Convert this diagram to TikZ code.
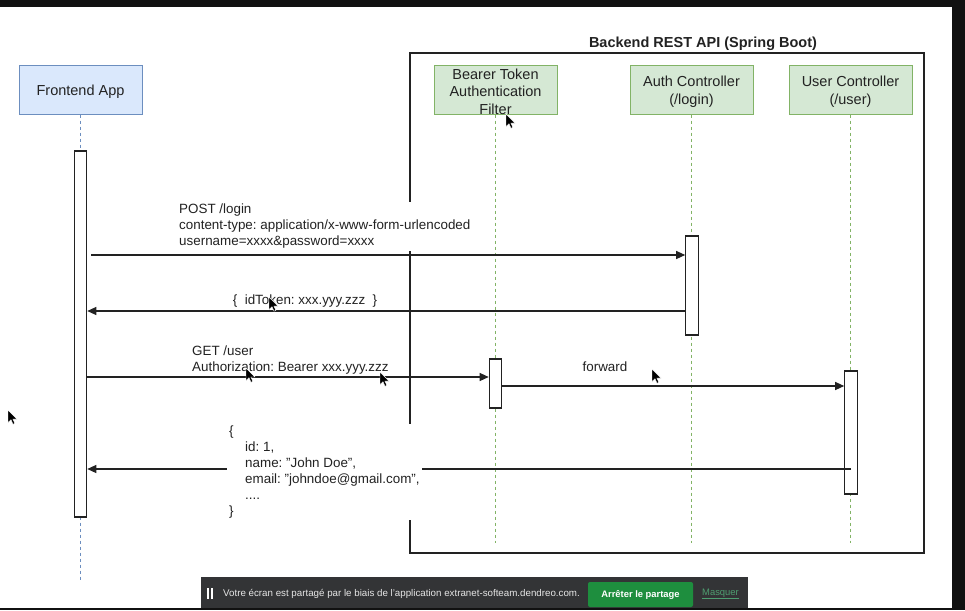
\documentclass[tikz,border=0pt]{standalone}
\usepackage{fontspec}
\setmainfont{Liberation Sans}
\usetikzlibrary{arrows.meta}
\frenchspacing
\definecolor{bluefill}{HTML}{DAE8FC}
\definecolor{bluestroke}{HTML}{6C8EBF}
\definecolor{greenfill}{HTML}{D5E8D4}
\definecolor{greenstroke}{HTML}{82B366}
\definecolor{ink}{HTML}{222222}
\definecolor{screenblack}{HTML}{111111}
\definecolor{sharebar}{HTML}{333436}
\definecolor{btngreen}{HTML}{1E8E3E}
\definecolor{masq}{HTML}{4E9E70}
\definecolor{bartext}{HTML}{E6E6E6}
\newcommand{\dq}{\symbol{"22}}
\tikzset{
  boxtext/.style={font=\fontsize{14.5}{17.5}\selectfont, text=ink},
  lbltext/.style={font=\fontsize{13.4}{16}\selectfont, text=ink},
  fbox/.style={draw=bluestroke, fill=bluefill, line width=1pt, minimum width=123pt, minimum height=49pt, inner sep=0pt},
  gbox/.style={draw=greenstroke, fill=greenfill, line width=1pt, minimum width=123pt, minimum height=49pt, inner sep=0pt},
  boxlabel/.style={label={[boxtext, align=center, yshift=-2.3pt]center:{#1}}},
  lifeblue/.style={draw=bluestroke, line width=0.9pt, dash pattern=on 3pt off 3pt},
  lifegreen/.style={draw=greenstroke, line width=0.9pt, dash pattern=on 3pt off 3pt},
  actbar/.style={draw=ink, fill=white, line width=1.1pt, minimum width=12.5pt, inner sep=0pt},
  msg/.style={draw=ink, line width=1.2pt, -{Triangle[length=9pt,width=8pt]}},
  msglabel/.style={lbltext, fill=white, inner sep=2pt, align=left},
  mouseptr/.pic={\filldraw[black, draw=white, line width=0.4pt, scale=0.9] (0,0) -- (0,14) -- (3.3,10.8) -- (5.6,15.8) -- (7.6,14.9) -- (5.4,10) -- (10,10) -- cycle;}
}
\begin{document}
\begin{tikzpicture}[x=1pt,y=-1pt]
\useasboundingbox (0,0) rectangle (965,610);
\fill[white] (0,0) rectangle (965,610);
% screen edges
\fill[screenblack] (0,0) rectangle (965,7);
\fill[screenblack] (952,0) rectangle (965,610);
\fill[screenblack] (0,608) rectangle (965,610);

% backend frame
\node[draw=ink, line width=1.2pt, minimum width=514pt, minimum height=500pt, inner sep=0pt] (frame) at (667,303) {};
\node[font=\bfseries\fontsize{14.5}{17}\selectfont, text=ink] (title) at (703,44) {Backend REST API (Spring Boot)};

% participants
\node[fbox, boxlabel={Frontend App}] (fe) at (80.5,89.5) {};
\node[gbox, boxlabel={Bearer Token\\Authentication\\Filter}] (bf) at (495.5,89.5) {};
\node[gbox, boxlabel={Auth Controller\\(/login)}] (ac) at (691.5,89.5) {};
\node[gbox, boxlabel={User Controller\\(/user)}] (uc) at (850.5,89.5) {};

% lifelines
\coordinate (feEnd) at (80.5,580);
\coordinate (bfEnd) at (495.5,543);
\coordinate (acEnd) at (691.5,543);
\coordinate (ucEnd) at (850.5,543);
\draw[lifeblue] (fe.south) -- (feEnd);
\draw[lifegreen] (bf.south) -- (bfEnd);
\draw[lifegreen] (ac.south) -- (acEnd);
\draw[lifegreen] (uc.south) -- (ucEnd);

% activations
\node[actbar, minimum height=366pt] (feAct) at (80.5,334) {};
\node[actbar, minimum height=99pt] (acAct) at (692,285.5) {};
\node[actbar, minimum height=49pt] (bfAct) at (495.5,383.5) {};
\node[actbar, minimum height=123pt] (ucAct) at (851,432.5) {};

% message levels
\coordinate (postY) at (0,255);
\coordinate (tokY) at (0,311);
\coordinate (getY) at (0,377);
\coordinate (fwdY) at (0,386);
\coordinate (resY) at (0,469);

% messages
\draw[msg] ([xshift=4pt]feAct.east |- postY) -- (acAct.west |- postY);
\draw[msg] (acAct.west |- tokY) -- (feAct.east |- tokY);
\draw[msg] (feAct.east |- getY) -- (bfAct.west |- getY);
\draw[msg] (bfAct.east |- fwdY) -- (ucAct.west |- fwdY);
\draw[msg] (ucAct.center |- resY) -- (feAct.east |- resY);

% labels
\node[msglabel, anchor=west] (postlbl) at (177,226.5) {POST /login\\content-type: application/x-www-form-urlencoded\\username=xxxx\&password=xxxx};
\node[msglabel] (toklbl) at (305,301) {\{\ \ idToken: xxx.yyy.zzz\ \ \}};
\node[msglabel, anchor=west] (getlbl) at (190,360) {GET /user\\Authorization: Bearer xxx.yyy.zzz};
\node[lbltext] (fwdlbl) at (605,367) {forward};
\node[msglabel, anchor=west] (reslbl) at (227,472) {\{\\\hspace*{16pt}id: 1,\\\hspace*{16pt}name: \dq John Doe\dq,\\\hspace*{16pt}email: \dq johndoe@gmail.com\dq,\\\hspace*{16pt}....\\\}};

% share bar
\node[fill=sharebar, minimum width=547pt, minimum height=31pt, inner sep=0pt] (bar) at (474.5,592.5) {};
\fill[white] (207,588) rectangle (209,599);
\fill[white] (211,588) rectangle (213,599);
\node[font=\fontsize{9.75}{11}\selectfont, text=bartext, anchor=west, inner sep=0pt] (bartxt) at (223,594) {Votre écran est partagé par le biais de l'application extranet-softeam.dendreo.com.};
\node[fill=btngreen, rounded corners=2pt, minimum width=105pt, minimum height=25pt, inner sep=0pt, text=white, font=\bfseries\fontsize{9.4}{11}\selectfont] (stopbtn) at (640.5,594.5) {Arrêter le partage};
\node[text=masq, font=\fontsize{9.4}{11}\selectfont, inner sep=0pt] (hidebtn) at (720.5,594) {\underline{Masquer}};

% mouse pointers
\pic at (506,114) {mouseptr};
\pic at (269,297) {mouseptr};
\pic at (246,368) {mouseptr};
\pic at (380,372) {mouseptr};
\pic at (652,369) {mouseptr};
\pic at (8,410) {mouseptr};
\end{tikzpicture}
\end{document}
